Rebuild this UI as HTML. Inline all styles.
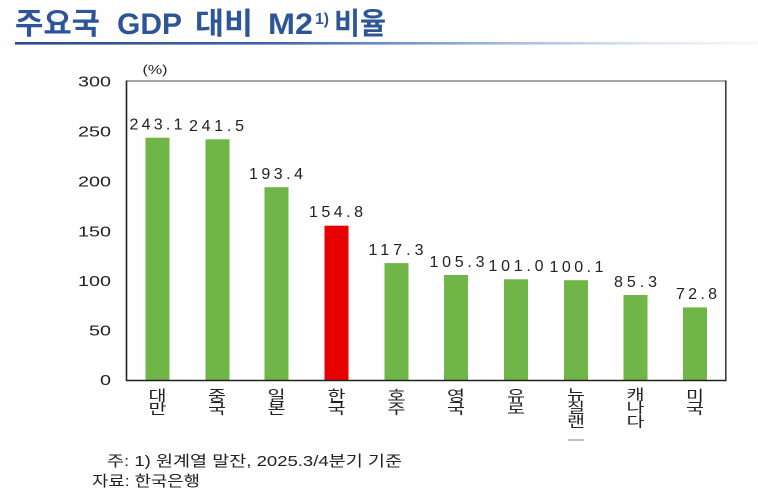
<!DOCTYPE html>
<html><head><meta charset="utf-8"><style>
html,body{margin:0;padding:0;background:#fefefe;}
svg{display:block;}
</style></head><body>
<svg width="758" height="493" viewBox="0 0 758 493" xmlns="http://www.w3.org/2000/svg">
<defs>
<linearGradient id="ul" x1="0" x2="1" y1="0" y2="0">
<stop offset="0" stop-color="#2b4a8b"/>
<stop offset="0.35" stop-color="#3f64ab"/>
<stop offset="0.6" stop-color="#8eaadb"/>
<stop offset="0.85" stop-color="#dfe6f3"/>
<stop offset="1" stop-color="#f6f8fc"/>
</linearGradient>
</defs>
<rect width="758" height="493" fill="#fefefe"/>
<!-- title -->
<g font-family="'Liberation Sans','Noto Sans CJK KR',sans-serif" font-weight="bold" font-size="30" fill="#2e5597">
<text x="15" y="34" textLength="85" lengthAdjust="spacingAndGlyphs" font-family="'Noto Sans CJK KR',sans-serif">주요국</text>
<text x="117" y="34" textLength="65" lengthAdjust="spacingAndGlyphs">GDP</text>
<text x="195" y="34" textLength="58" lengthAdjust="spacingAndGlyphs" font-family="'Noto Sans CJK KR',sans-serif">대비</text>
<text x="268" y="34" textLength="45" lengthAdjust="spacingAndGlyphs">M2</text>
<text x="315" y="24" font-size="16" textLength="14" lengthAdjust="spacingAndGlyphs">1)</text>
<text x="334" y="34" textLength="52" lengthAdjust="spacingAndGlyphs" font-family="'Noto Sans CJK KR',sans-serif">비율</text>
</g>
<rect x="15" y="42" width="743" height="2.6" fill="url(#ul)"/>

<!-- unit -->
<text x="155" y="74" font-family="'Liberation Sans',sans-serif" font-size="13" fill="#222" text-anchor="middle" textLength="25" lengthAdjust="spacingAndGlyphs">(%)</text>

<!-- y tick labels -->
<g font-family="'Liberation Sans',sans-serif" font-size="15" fill="#222" text-anchor="end">
<text x="111" y="86.5" textLength="33" lengthAdjust="spacingAndGlyphs">300</text>
<text x="111" y="136.5" textLength="33" lengthAdjust="spacingAndGlyphs">250</text>
<text x="111" y="186.5" textLength="33" lengthAdjust="spacingAndGlyphs">200</text>
<text x="111" y="236.5" textLength="33" lengthAdjust="spacingAndGlyphs">150</text>
<text x="111" y="286" textLength="33" lengthAdjust="spacingAndGlyphs">100</text>
<text x="111" y="335.5" textLength="22" lengthAdjust="spacingAndGlyphs">50</text>
<text x="111" y="385" textLength="11" lengthAdjust="spacingAndGlyphs">0</text>
</g>

<!-- bars -->
<g fill="#70b548">
<rect x="145.5" y="137.7" width="24" height="242.3"/>
<rect x="205.5" y="139.3" width="24" height="240.7"/>
<rect x="264.5" y="187.2" width="24" height="192.8"/>
<rect x="384.5" y="263.1" width="24" height="116.9"/>
<rect x="444" y="275.0" width="24" height="105.0"/>
<rect x="504" y="279.3" width="24" height="100.7"/>
<rect x="564" y="280.2" width="24" height="99.8"/>
<rect x="623.5" y="295.0" width="24" height="85.0"/>
<rect x="683" y="307.4" width="24" height="72.6"/>
</g>
<rect x="324.5" y="225.7" width="24" height="154.3" fill="#e60000"/>

<!-- axes box -->
<line x1="126.5" y1="81" x2="726" y2="81" stroke="#8a8a8a" stroke-width="1.5"/>
<line x1="725.8" y1="80.5" x2="725.8" y2="380.5" stroke="#333" stroke-width="1.5"/>
<line x1="126.5" y1="80.5" x2="126.5" y2="381" stroke="#222" stroke-width="1.6"/>
<line x1="126" y1="380.5" x2="726.5" y2="380.5" stroke="#222" stroke-width="1.6"/>

<!-- value labels -->
<g font-family="'Liberation Sans',sans-serif" font-size="16" fill="#222" text-anchor="middle">
<text x="156" y="129.5" textLength="53" lengthAdjust="spacing">243.1</text>
<text x="216.5" y="131" textLength="55" lengthAdjust="spacing">241.5</text>
<text x="276" y="179" textLength="54" lengthAdjust="spacing">193.4</text>
<text x="336" y="217" textLength="54" lengthAdjust="spacing">154.8</text>
<text x="396" y="255" textLength="55" lengthAdjust="spacing">117.3</text>
<text x="457" y="267" textLength="55" lengthAdjust="spacing">105.3</text>
<text x="516" y="271" textLength="55" lengthAdjust="spacing">101.0</text>
<text x="576.5" y="272" textLength="54" lengthAdjust="spacing">100.1</text>
<text x="635.5" y="287" textLength="43" lengthAdjust="spacing">85.3</text>
<text x="696.5" y="299" textLength="41" lengthAdjust="spacing">72.8</text>
</g>

<!-- x labels -->
<g font-family="'Noto Sans CJK KR','Liberation Sans',sans-serif" font-size="14.5" fill="#222" text-anchor="middle">
<g transform="translate(157.5,0) scale(1.35,1)"><text x="0" y="401">대</text><text x="0" y="414">만</text></g>
<g transform="translate(217,0) scale(1.35,1)"><text x="0" y="401">중</text><text x="0" y="414">국</text></g>
<g transform="translate(276.5,0) scale(1.35,1)"><text x="0" y="401">일</text><text x="0" y="414">본</text></g>
<g transform="translate(336.5,0) scale(1.35,1)"><text x="0" y="401">한</text><text x="0" y="414">국</text></g>
<g transform="translate(396.5,0) scale(1.35,1)"><text x="0" y="401">호</text><text x="0" y="414">주</text></g>
<g transform="translate(456,0) scale(1.35,1)"><text x="0" y="401">영</text><text x="0" y="414">국</text></g>
<g transform="translate(516,0) scale(1.35,1)"><text x="0" y="401">유</text><text x="0" y="414">로</text></g>
<g transform="translate(576,0) scale(1.35,1)"><text x="0" y="400">뉴</text><text x="0" y="413">질</text><text x="0" y="427">랜</text></g>
<g transform="translate(635.5,0) scale(1.35,1)"><text x="0" y="400">캐</text><text x="0" y="413">나</text><text x="0" y="427">다</text></g>
<g transform="translate(695,0) scale(1.35,1)"><text x="0" y="401">미</text><text x="0" y="414">국</text></g>
</g>
<line x1="568" y1="440" x2="584" y2="440" stroke="#9a9a9a" stroke-width="1.2"/>

<!-- footnotes -->
<g font-family="'Liberation Sans','Noto Sans CJK KR',sans-serif" font-size="15" fill="#222">
<text x="107" y="466" textLength="295" lengthAdjust="spacingAndGlyphs">주: 1) 원계열 말잔, 2025.3/4분기 기준</text>
<text x="92" y="486" textLength="108" lengthAdjust="spacingAndGlyphs">자료: 한국은행</text>
</g>
</svg>
</body></html>
